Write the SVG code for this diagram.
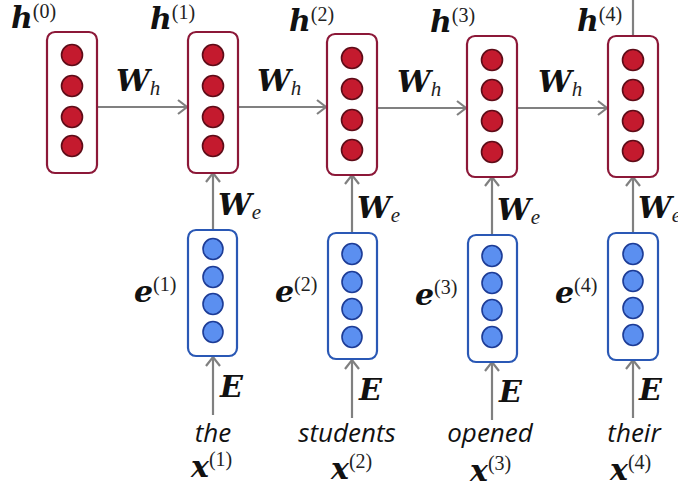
<svg xmlns="http://www.w3.org/2000/svg" width="678" height="488" viewBox="0 0 678 488">
  <style>
    .hbox { fill: #ffffff; stroke: #8c1838; stroke-width: 2.2; }
    .ebox { fill: #ffffff; stroke: #2a58b5; stroke-width: 2.2; }
    .hdot { fill: #c41a2e; stroke: #5e0c18; stroke-width: 1.6; }
    .edot { fill: #5b8ff0; stroke: #1d3c96; stroke-width: 1.6; }
    .wire { stroke: #808080; stroke-width: 2.2; fill: none; }
    .math { font-family: "DejaVu Serif", "Liberation Serif", serif; font-weight: bold; font-style: italic; font-size: 30px; fill: #111111; }
    .sup { font-family: "Liberation Serif", "DejaVu Serif", serif; font-weight: normal; font-style: normal; font-size: 20px; fill: #222222; }
    .sub { font-family: "Liberation Serif", "DejaVu Serif", serif; font-weight: normal; font-style: italic; font-size: 21px; fill: #222222; }
    .word { font-family: "Open Sans", "Liberation Sans", sans-serif; font-style: italic; font-size: 26px; fill: #111111; }
  </style>
  <defs>
    <marker id="arrow" markerUnits="userSpaceOnUse" markerWidth="20" markerHeight="20" viewBox="-12 -10 14 20" refX="0" refY="0" orient="auto">
      <path d="M-9,-7 L0,0 L-9,7" fill="none" stroke="#808080" stroke-width="2.2"/>
    </marker>
  </defs>

  <!-- connectors -->
  <g id="connectors">
    <!-- recurrent W_h links -->
    <line class="wire" x1="97" y1="107" x2="187" y2="107" marker-end="url(#arrow)"/>
    <line class="wire" x1="238" y1="107" x2="326" y2="107" marker-end="url(#arrow)"/>
    <line class="wire" x1="377" y1="108" x2="466" y2="108" marker-end="url(#arrow)"/>
    <line class="wire" x1="517" y1="108" x2="607" y2="108" marker-end="url(#arrow)"/>
    <!-- W_e links -->
    <line class="wire" x1="213" y1="230" x2="213" y2="173" marker-end="url(#arrow)"/>
    <line class="wire" x1="352" y1="233" x2="352" y2="175" marker-end="url(#arrow)"/>
    <line class="wire" x1="492" y1="235" x2="492" y2="177" marker-end="url(#arrow)"/>
    <line class="wire" x1="633" y1="233" x2="633" y2="177" marker-end="url(#arrow)"/>
    <!-- E links -->
    <line class="wire" x1="213" y1="415" x2="213" y2="357" marker-end="url(#arrow)"/>
    <line class="wire" x1="352" y1="418" x2="352" y2="360" marker-end="url(#arrow)"/>
    <line class="wire" x1="492" y1="420" x2="492" y2="362" marker-end="url(#arrow)"/>
    <line class="wire" x1="633" y1="418" x2="633" y2="360" marker-end="url(#arrow)"/>
    <!-- output line leaving h(4) -->
    <line class="wire" x1="633" y1="0" x2="633" y2="36"/>

    <!-- link labels -->
    <text class="math" x="116" y="91">W<tspan class="sub" dy="4">h</tspan></text>
    <text class="math" x="257" y="91">W<tspan class="sub" dy="4">h</tspan></text>
    <text class="math" x="397" y="92">W<tspan class="sub" dy="4">h</tspan></text>
    <text class="math" x="538" y="92">W<tspan class="sub" dy="4">h</tspan></text>
    <text class="math" x="218" y="215">W<tspan class="sub" dy="4">e</tspan></text>
    <text class="math" x="357" y="218">W<tspan class="sub" dy="4">e</tspan></text>
    <text class="math" x="497" y="220">W<tspan class="sub" dy="4">e</tspan></text>
    <text class="math" x="638" y="218">W<tspan class="sub" dy="4">e</tspan></text>
    <text class="math" x="220" y="397">E</text>
    <text class="math" x="359" y="400">E</text>
    <text class="math" x="499" y="402">E</text>
    <text class="math" x="639" y="400">E</text>
  </g>

  <!-- hidden states -->
  <g id="h0">
    <rect class="hbox" x="47" y="32" width="50" height="141" rx="8"/>
    <circle class="hdot" cx="72" cy="55" r="10.5"/>
    <circle class="hdot" cx="72" cy="86" r="10.5"/>
    <circle class="hdot" cx="72" cy="117" r="10.5"/>
    <circle class="hdot" cx="72" cy="146" r="10.5"/>
    <text class="math" x="11" y="28">h<tspan class="sup" dy="-10">(0)</tspan></text>
  </g>
  <g id="h1">
    <rect class="hbox" x="188" y="32" width="50" height="141" rx="8"/>
    <circle class="hdot" cx="213" cy="55" r="10.5"/>
    <circle class="hdot" cx="213" cy="86" r="10.5"/>
    <circle class="hdot" cx="213" cy="117" r="10.5"/>
    <circle class="hdot" cx="213" cy="146" r="10.5"/>
    <text class="math" x="150" y="29">h<tspan class="sup" dy="-10">(1)</tspan></text>
  </g>
  <g id="h2">
    <rect class="hbox" x="327" y="34" width="50" height="141" rx="8"/>
    <circle class="hdot" cx="352" cy="58" r="10.5"/>
    <circle class="hdot" cx="352" cy="89" r="10.5"/>
    <circle class="hdot" cx="352" cy="120" r="10.5"/>
    <circle class="hdot" cx="352" cy="150" r="10.5"/>
    <text class="math" x="289" y="31">h<tspan class="sup" dy="-10">(2)</tspan></text>
  </g>
  <g id="h3">
    <rect class="hbox" x="467" y="36" width="50" height="141" rx="8"/>
    <circle class="hdot" cx="492" cy="60" r="10.5"/>
    <circle class="hdot" cx="492" cy="90" r="10.5"/>
    <circle class="hdot" cx="492" cy="121" r="10.5"/>
    <circle class="hdot" cx="492" cy="152" r="10.5"/>
    <text class="math" x="430" y="32">h<tspan class="sup" dy="-10">(3)</tspan></text>
  </g>
  <g id="h4">
    <rect class="hbox" x="608" y="36" width="50" height="141" rx="8"/>
    <circle class="hdot" cx="633" cy="60" r="10.5"/>
    <circle class="hdot" cx="633" cy="90" r="10.5"/>
    <circle class="hdot" cx="633" cy="121" r="10.5"/>
    <circle class="hdot" cx="633" cy="151" r="10.5"/>
    <text class="math" x="577" y="31">h<tspan class="sup" dy="-10">(4)</tspan></text>
  </g>

  <!-- embeddings -->
  <g id="e1">
    <rect class="ebox" x="188" y="230" width="49" height="126" rx="8"/>
    <ellipse class="edot" cx="213" cy="249" rx="10" ry="10.5"/>
    <ellipse class="edot" cx="213" cy="277" rx="10" ry="10.5"/>
    <ellipse class="edot" cx="213" cy="304" rx="10" ry="10.5"/>
    <ellipse class="edot" cx="213" cy="332" rx="10" ry="10.5"/>
    <text class="math" x="134" y="302">e<tspan class="sup" dy="-11">(1)</tspan></text>
  </g>
  <g id="e2">
    <rect class="ebox" x="328" y="233" width="49" height="126" rx="8"/>
    <ellipse class="edot" cx="352" cy="254" rx="10" ry="10.5"/>
    <ellipse class="edot" cx="352" cy="282" rx="10" ry="10.5"/>
    <ellipse class="edot" cx="352" cy="309" rx="10" ry="10.5"/>
    <ellipse class="edot" cx="352" cy="337" rx="10" ry="10.5"/>
    <text class="math" x="275" y="302">e<tspan class="sup" dy="-11">(2)</tspan></text>
  </g>
  <g id="e3">
    <rect class="ebox" x="468" y="235" width="49" height="127" rx="8"/>
    <ellipse class="edot" cx="492" cy="256" rx="10" ry="10.5"/>
    <ellipse class="edot" cx="492" cy="283" rx="10" ry="10.5"/>
    <ellipse class="edot" cx="492" cy="310" rx="10" ry="10.5"/>
    <ellipse class="edot" cx="492" cy="337" rx="10" ry="10.5"/>
    <text class="math" x="415" y="305">e<tspan class="sup" dy="-11">(3)</tspan></text>
  </g>
  <g id="e4">
    <rect class="ebox" x="608" y="233" width="50" height="127" rx="8"/>
    <ellipse class="edot" cx="633" cy="254" rx="10" ry="10.5"/>
    <ellipse class="edot" cx="633" cy="281" rx="10" ry="10.5"/>
    <ellipse class="edot" cx="633" cy="308" rx="10" ry="10.5"/>
    <ellipse class="edot" cx="633" cy="335" rx="10" ry="10.5"/>
    <text class="math" x="555" y="303">e<tspan class="sup" dy="-11">(4)</tspan></text>
  </g>

  <!-- input words -->
  <g id="x1">
    <text class="word" x="213" y="442" text-anchor="middle">the</text>
    <text class="math" x="191" y="477">x<tspan class="sup" dy="-11">(1)</tspan></text>
  </g>
  <g id="x2">
    <text class="word" x="347" y="442" text-anchor="middle">students</text>
    <text class="math" x="331" y="479">x<tspan class="sup" dy="-11">(2)</tspan></text>
  </g>
  <g id="x3">
    <text class="word" x="490" y="442" text-anchor="middle">opened</text>
    <text class="math" x="470" y="481">x<tspan class="sup" dy="-11">(3)</tspan></text>
  </g>
  <g id="x4">
    <text class="word" x="634" y="442" text-anchor="middle">their</text>
    <text class="math" x="610" y="480">x<tspan class="sup" dy="-11">(4)</tspan></text>
  </g>
</svg>
